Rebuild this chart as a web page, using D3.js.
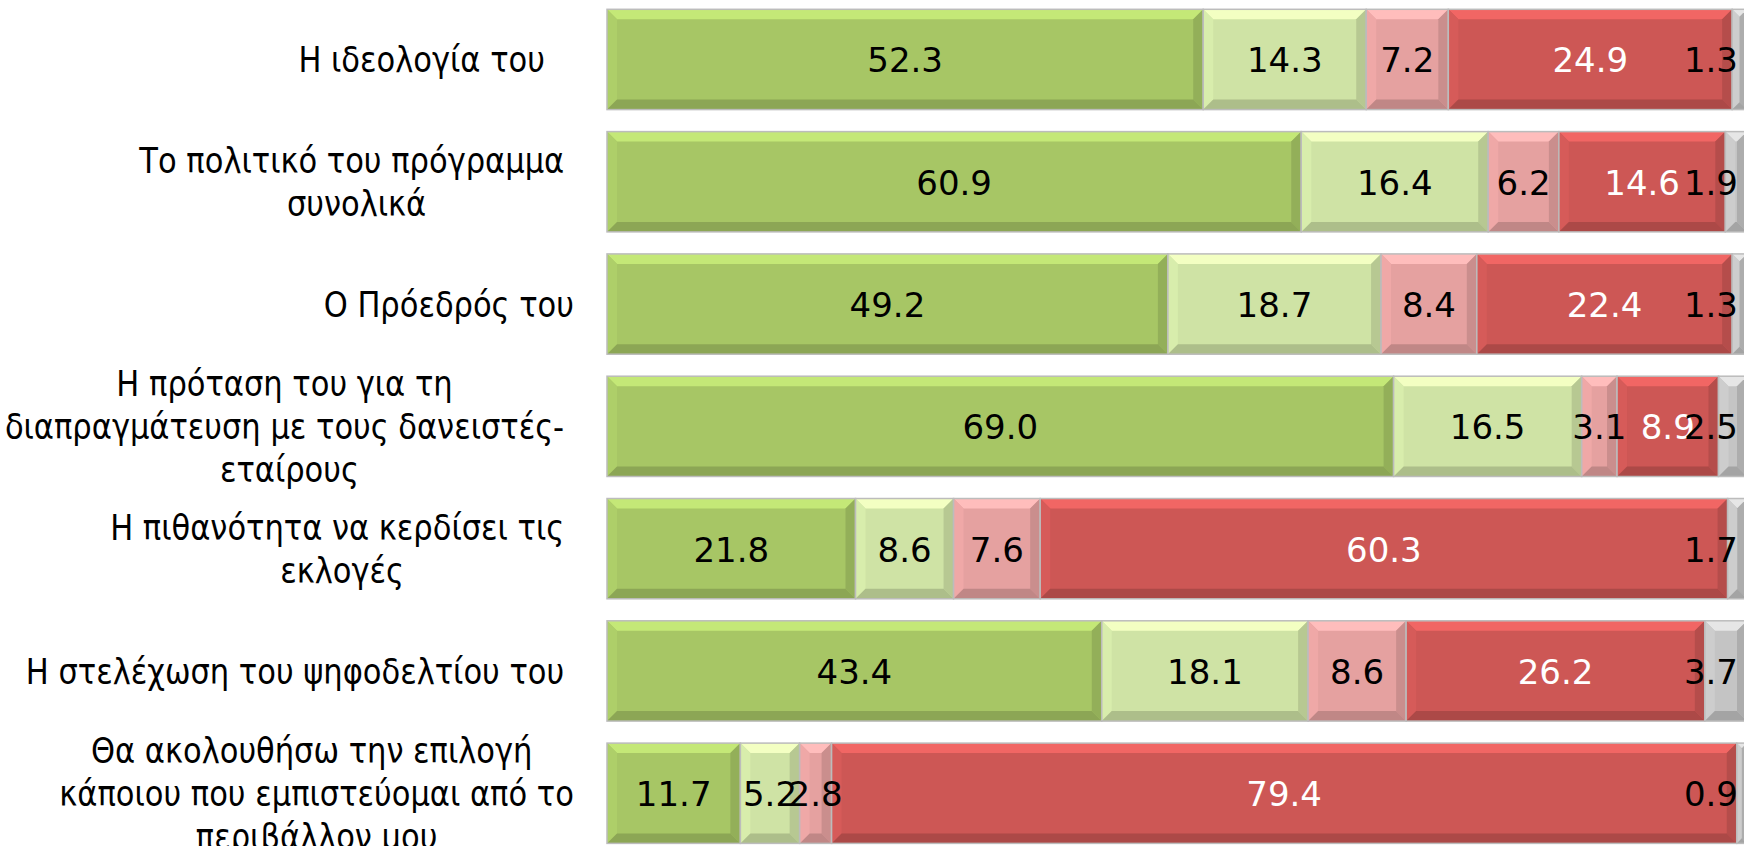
<!DOCTYPE html>
<html lang="el">
<head>
<meta charset="utf-8">
<title>Κριτήρια επιλογής κόμματος</title>
<script src="https://cdn.jsdelivr.net/npm/d3@7/dist/d3.min.js"></script>
<style>
  html, body { margin: 0; padding: 0; background: #ffffff; }
  svg { display: block; }
  .cat text { white-space: pre; }
</style>
</head>
<body>
<svg id="chart" width="1744" height="846"></svg>
<script>
// Categories, top to bottom, and how each label wraps onto lines
const categories = [
  "Η ιδεολογία του",
  "Το πολιτικό του πρόγραμμα συνολικά",
  "Ο Πρόεδρός του",
  "Η πρόταση του για τη διαπραγμάτευση με τους δανειστές- εταίρους",
  "Η πιθανότητα να κερδίσει τις εκλογές",
  "Η στελέχωση του ψηφοδελτίου του",
  "Θα ακολουθήσω την επιλογή κάποιου που εμπιστεύομαι από το περιβάλλον μου"
];
const categoryLines = [
  ["Η ιδεολογία του   "],
  ["Το πολιτικό του πρόγραμμα ", "συνολικά"],
  ["Ο Πρόεδρός του"],
  ["Η πρόταση του για τη ", "διαπραγμάτευση με τους δανειστές- ", "εταίρους"],
  ["Η πιθανότητα να κερδίσει τις ", "εκλογές"],
  ["Η στελέχωση του ψηφοδελτίου του "],
  ["Θα ακολουθήσω την επιλογή ", "κάποιου που εμπιστεύομαι από το", "περιβάλλον μου"]
];

// Answer shares (%) per category
const seriesNames = ["Πολύ", "Αρκετά", "Λίγο", "Καθόλου", "ΔΞ/ΔΑ"];
const veryMuch  = [52.3, 60.9, 49.2, 69.0, 21.8, 43.4, 11.7];
const quite     = [14.3, 16.4, 18.7, 16.5,  8.6, 18.1,  5.2];
const little    = [ 7.2,  6.2,  8.4,  3.1,  7.6,  8.6,  2.8];
const notAtAll  = [24.9, 14.6, 22.4,  8.9, 60.3, 26.2, 79.4];
const noAnswer  = [ 1.3,  1.9,  1.3,  2.5,  1.7,  3.7,  0.9];

const seriesValues = [veryMuch, quite, little, notAtAll, noAnswer];
const seriesColors = ["#a7c665", "#cfe3a5", "#e5a1a0", "#cd5755", "#c4c4c4"];
const labelColors  = ["#000000", "#000000", "#000000", "#ffffff", "#000000"];

// Table for the stack layout
const table = categories.map((c, i) => {
  const row = { category: c };
  seriesNames.forEach((s, j) => { row[s] = seriesValues[j][i]; });
  return row;
});

const svg = d3.select("#chart");
const plotLeft = 607, plotRight = 1747, chartRight = 1738;
const labelRight = 574;

const x = d3.scaleLinear().domain([0, 100]).range([plotLeft, plotRight]);
const y = d3.scaleBand()
  .domain(categories)
  .range([-1.7, 854.4])
  .paddingInner(0.18)
  .paddingOuter(0.09);

const stacked = d3.stack().keys(seriesNames)(table);

const valueFont = "'DejaVu Sans', Verdana, sans-serif";
const catFont = "'DejaVu Sans Condensed', 'DejaVu Sans', sans-serif";
const catSize = 36, catSqueeze = 0.943, lineStep = 43;

// Bevelled segments
const bars = svg.append("g").attr("class", "bars");
stacked.forEach((layer, si) => {
  const base = d3.color(seriesColors[si]);
  const g = bars.append("g").attr("class", "series");
  layer.forEach((d, ci) => {
    const x0 = x(d[0]), x1 = x(d[1]);
    const y0 = y(categories[ci]), y1 = y0 + y.bandwidth();
    const w = x1 - x0, h = y1 - y0;
    const b = Math.min(10, w / 2, h / 2);
    const seg = g.append("g");
    seg.append("rect")
      .attr("x", x0).attr("y", y0).attr("width", w).attr("height", h)
      .attr("fill", base.formatHex());
    const poly = pts => pts.map(p => p.join(",")).join(" ");
    seg.append("polygon")
      .attr("points", poly([[x0, y0], [x1, y0], [x1 - b, y0 + b], [x0 + b, y0 + b]]))
      .attr("fill", base.brighter(0.45).formatHex());
    seg.append("polygon")
      .attr("points", poly([[x0, y0], [x0 + b, y0 + b], [x0 + b, y1 - b], [x0, y1]]))
      .attr("fill", base.brighter(0.12).formatHex());
    seg.append("polygon")
      .attr("points", poly([[x1, y0], [x1 - b, y0 + b], [x1 - b, y1 - b], [x1, y1]]))
      .attr("fill", base.darker(0.35).formatHex());
    seg.append("polygon")
      .attr("points", poly([[x0, y1], [x1, y1], [x1 - b, y1 - b], [x0 + b, y1 - b]]))
      .attr("fill", base.darker(0.5).formatHex());
    seg.append("rect")
      .attr("x", x0).attr("y", y0).attr("width", w).attr("height", h)
      .attr("fill", "none")
      .attr("stroke", "#bcbcbc")
      .attr("stroke-width", 1.5);
  });
});

// Value labels, centred in each segment and kept inside the chart area
const labels = svg.append("g").attr("class", "values");
stacked.forEach((layer, si) => {
  layer.forEach((d, ci) => {
    const cx = (x(d[0]) + x(d[1])) / 2;
    const cy = y(categories[ci]) + y.bandwidth() / 2;
    const t = labels.append("text")
      .attr("y", cy + 13)
      .attr("font-family", valueFont)
      .attr("font-size", 34)
      .attr("fill", labelColors[si])
      .attr("text-anchor", "middle")
      .text(d3.format(".1f")(d[1] - d[0]));
    const half = t.node().getComputedTextLength() / 2;
    t.attr("x", Math.min(cx, chartRight - half));
  });
});

// Category labels: centred lines, block right-aligned next to the bars
const cats = svg.append("g").attr("class", "cat");
categoryLines.forEach((lines, ci) => {
  const cy = y(categories[ci]) + y.bandwidth() / 2;
  const texts = lines.map((ln, li) => cats.append("text")
    .attr("font-family", catFont)
    .attr("font-size", catSize)
    .attr("fill", "#000")
    .attr("text-anchor", "middle")
    .datum(cy + (li - (lines.length - 1) / 2) * lineStep + 13)
    .text(ln));
  const blockW = d3.max(texts, t => t.node().getComputedTextLength()) * catSqueeze;
  const cx = labelRight - blockW / 2;
  texts.forEach(t => t.attr("transform", d => `translate(${cx},${d}) scale(${catSqueeze},1)`));
});
</script>
</body>
</html>
